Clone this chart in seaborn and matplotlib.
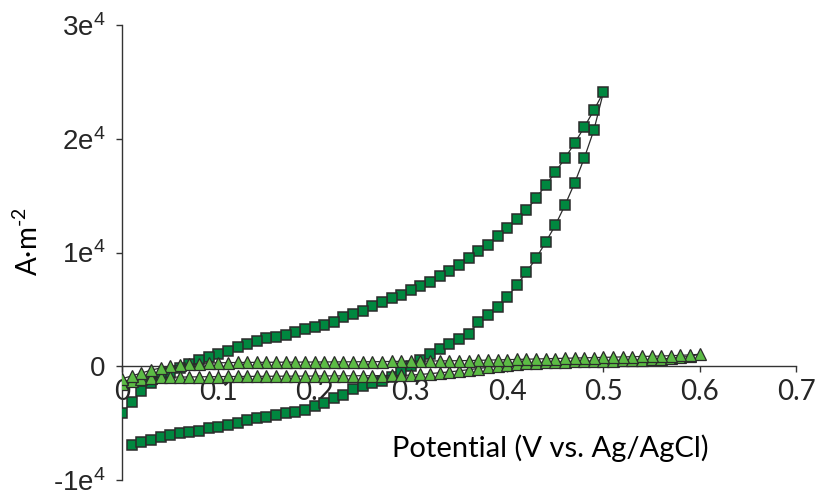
import matplotlib
matplotlib.use("Agg")
import matplotlib.pyplot as plt
import seaborn as sns
import numpy as np
import pandas as pd

# ---- data: CV loop 1 (squares) ----
sq_fwd_v = [round(0.01 * i, 2) for i in range(1, 51)]
sq_fwd_i = [-6945, -6680, -6500, -6240, -6065, -5890, -5800, -5710, -5450, -5360,
            -5190, -5010, -4750, -4570, -4480, -4310, -4130, -4040, -3870, -3520,
            -3250, -2810, -2550, -2020, -1760, -1490, -1320, -970, -530, 0,
            530, 1050, 1490, 1930, 2370, 2810, 3870, 4480, 5190, 6070,
            7120, 8260, 9490, 10900, 12390, 14150, 16090, 18280, 20740, 24090]
sq_rev_v = [round(0.01 * i, 2) for i in range(49, -1, -1)]
sq_rev_i = [22500, 21010, 19600, 18280, 17050, 15910, 14770, 13710, 12920, 12130,
            11430, 10640, 10110, 9490, 8880, 8350, 7910, 7380, 7030, 6680,
            6240, 5980, 5630, 5270, 4830, 4570, 4310, 3870, 3600, 3430,
            3250, 2990, 2720, 2550, 2460, 2200, 1930, 1670, 1320, 1050,
            790, 530, 180, -180, -620, -1050, -1490, -2200, -3160, -4130]

# ---- data: CV loop 2 (triangles) ----
tr_fwd_v = [round(0.01 * i, 2) for i in range(0, 61)]
tr_fwd_i = [-1600, -1300, -1100, -1000, -980, -960, -950, -940, -930, -920,
            -910, -900, -900, -890, -890, -880, -880, -870, -870, -860,
            -860, -850, -850, -840, -840, -830, -830, -820, -810, -800,
            -780, -720, -650, -570, -500, -400, -300, -200, -100, 0,
            100, 180, 250, 300, 350, 380, 400, 420, 440, 460,
            480, 500, 520, 540, 560, 600, 640, 700, 780, 880, 1050]
tr_rev_v = [round(0.01 * i, 2) for i in range(59, -1, -1)]
tr_rev_i = [1000, 960, 930, 900, 880, 860, 840, 820, 800, 780,
            760, 740, 720, 700, 680, 660, 640, 620, 600, 580,
            560, 540, 520, 500, 490, 480, 470, 460, 450, 440,
            430, 420, 410, 400, 400, 390, 390, 380, 380, 370,
            370, 360, 360, 350, 350, 340, 340, 330, 320, 300,
            280, 240, 180, 100, 0, -150, -350, -600, -850, -1100]

xticks = [0, 0.1, 0.2, 0.3, 0.4, 0.5, 0.6, 0.7]
xtick_labels = ["0", "0.1", "0.2", "0.3", "0.4", "0.5", "0.6", "0.7"]
yticks = [-10000, 0, 10000, 20000, 30000]
ytick_labels = ["-1e$^{4}$", "0", "1e$^{4}$", "2e$^{4}$", "3e$^{4}$"]

sq = pd.DataFrame({"v": sq_fwd_v + sq_rev_v, "i": sq_fwd_i + sq_rev_i})
tr = pd.DataFrame({"v": tr_fwd_v + tr_rev_v, "i": tr_fwd_i + tr_rev_i})

sns.set_theme(style="white")
plt.rcParams["font.family"] = ["Lato", "DejaVu Sans"]
plt.rcParams["mathtext.default"] = "regular"

fig = plt.figure(figsize=(8.17, 4.91), dpi=100)
ax = fig.add_axes([122 / 817, 11 / 491, 674 / 817, 455 / 491])

sns.lineplot(data=sq, x="v", y="i", sort=False, estimator=None, ax=ax,
             color="#2b2b2b", linewidth=0.9, marker="s", markersize=6.6,
             markerfacecolor="#00873f", markeredgecolor="#2b2b2b",
             markeredgewidth=1.1, zorder=3)
sns.lineplot(data=tr, x="v", y="i", sort=False, estimator=None, ax=ax,
             color="#2b2b2b", linewidth=0.9, marker="^", markersize=8.5,
             markerfacecolor="#5cbb45", markeredgecolor="#2b2b2b",
             markeredgewidth=0.9, zorder=4)

ax.set_xlim(0, 0.7)
ax.set_ylim(-10000, 30000)

ax.spines["top"].set_visible(False)
ax.spines["right"].set_visible(False)
ax.spines["bottom"].set_position(("data", 0))
for s in ("left", "bottom"):
    ax.spines[s].set_color("#333333")
    ax.spines[s].set_linewidth(1.0)
    ax.spines[s].set_zorder(1)

ax.set_xticks(xticks)
ax.set_xticklabels(xtick_labels, fontsize=20, family=["Lato", "DejaVu Sans"])
ax.set_yticks(yticks)
ax.set_yticklabels(ytick_labels, fontsize=20, family=["Liberation Sans", "DejaVu Sans"])
ax.tick_params(axis="both", direction="out", length=4, width=1.0, color="#333333",
               bottom=True, left=True)
ax.tick_params(axis="y", pad=8)
ax.tick_params(axis="x", pad=5)

ax.set_xlabel("Potential (V vs. Ag/AgCl)", fontsize=21, color="black")
ax.xaxis.set_label_coords((550 - 122) / 674, (480 - 448) / 455)
ax.xaxis.label.set_verticalalignment("center")
ax.set_ylabel("A·m$^{\u2010 2}$".replace(" ", ""), fontsize=20, color="black")
ax.yaxis.set_label_coords((28 - 122) / 674, (480 - 242) / 455)
ax.yaxis.label.set_verticalalignment("center")

fig.savefig("out.png", dpi=100)
